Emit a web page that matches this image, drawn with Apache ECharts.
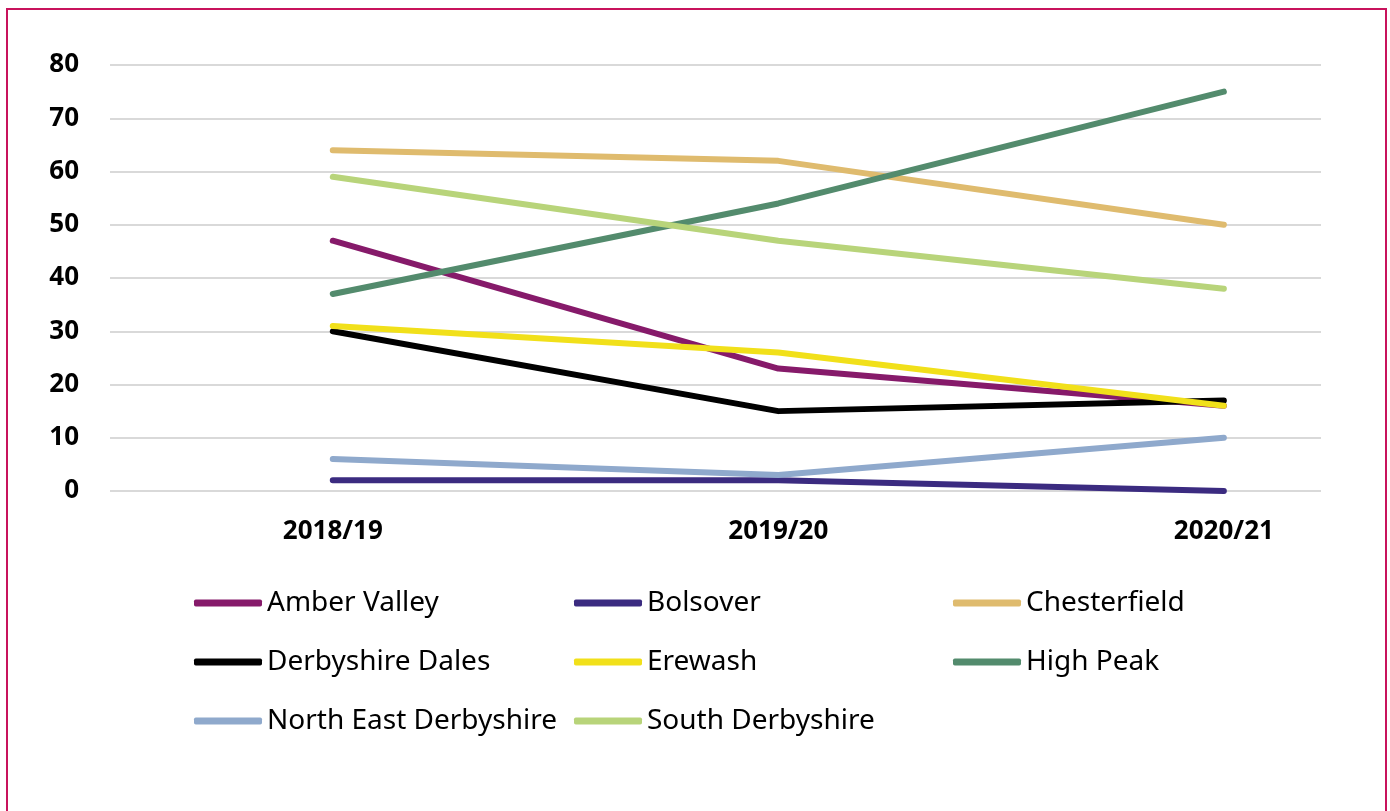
<!DOCTYPE html>
<html>
<head>
<meta charset="utf-8">
<script src="https://cdn.jsdelivr.net/npm/echarts@6/dist/echarts.min.js"></script>
<style>
  html, body { margin: 0; padding: 0; background: #fff; }
  #main { width: 1390px; height: 811px; }
</style>
</head>
<body>
<div id="main"></div>
<script>
var years = ["2018/19", "2019/20", "2020/21"]
var yTicks = [0, 10, 20, 30, 40, 50, 60, 70, 80]

var amberValley = [47, 23, 16]
var bolsover = [2, 2, 0]
var chesterfield = [64, 62, 50]
var derbyshireDales = [30, 15, 17]
var erewash = [31, 26, 16]
var highPeak = [37, 54, 75]
var northEastDerbyshire = [6, 3, 10]
var southDerbyshire = [59, 47, 38]

var lines = [
  { name: "Amber Valley", data: amberValley, color: "#861a6a" },
  { name: "Bolsover", data: bolsover, color: "#3b2b80" },
  { name: "Chesterfield", data: chesterfield, color: "#dfbb6e" },
  { name: "Derbyshire Dales", data: derbyshireDales, color: "#000000" },
  { name: "Erewash", data: erewash, color: "#f1e01a" },
  { name: "High Peak", data: highPeak, color: "#538b6d" },
  { name: "North East Derbyshire", data: northEastDerbyshire, color: "#8fa9cc" },
  { name: "South Derbyshire", data: southDerbyshire, color: "#b8d47a" }
]

var chartDom = document.getElementById("main")
var myChart = echarts.init(chartDom)
var option

function legendCol(left, names) {
  return {
    orient: "vertical",
    left: left,
    top: 589,
    padding: 0,
    itemWidth: 68,
    itemHeight: 7,
    itemGap: 31,
    icon: "roundRect",
    data: names,
    textStyle: { fontFamily: "Noto Sans", fontSize: 28, color: "#000" }
  }
}

option = {
  animation: false,
  backgroundColor: "#fff",
  graphic: [
    {
      type: "rect",
      shape: { x: 7, y: 9, width: 1379, height: 900 },
      style: { fill: "none", stroke: "#c8135c", lineWidth: 2 }
    }
  ],
  legend: [
    legendCol(194, ["Amber Valley", "Derbyshire Dales", "North East Derbyshire"]),
    legendCol(574, ["Bolsover", "Erewash", "South Derbyshire"]),
    legendCol(953, ["Chesterfield", "High Peak"])
  ],
  grid: {
    left: 110,
    right: 69,
    top: 65,
    bottom: 320,
    containLabel: false
  },
  xAxis: {
    type: "value",
    min: -0.5,
    max: 2.218,
    splitLine: { show: false },
    axisLine: { show: false },
    axisTick: { show: false },
    axisLabel: {
      customValues: [0, 1, 2],
      formatter: function (v) { return years[Math.round(v)] },
      margin: 28,
      fontFamily: "Noto Sans",
      fontSize: 26,
      fontWeight: "bold",
      color: "#000"
    }
  },
  yAxis: {
    type: "value",
    min: yTicks[0],
    max: yTicks[yTicks.length - 1],
    interval: 10,
    axisLine: { show: false },
    axisTick: { show: false },
    splitLine: { lineStyle: { color: "#d9d9d9", width: 2 } },
    axisLabel: {
      margin: 31,
      fontFamily: "Noto Sans",
      fontSize: 26,
      fontWeight: "bold",
      color: "#000"
    }
  },
  series: lines.map(function (s) {
    return {
      name: s.name,
      type: "line",
      symbol: "none",
      color: s.color,
      lineStyle: { width: 6, color: s.color, cap: "round", join: "round" },
      data: s.data.map(function (v, i) { return [i, v] })
    }
  })
}

option && myChart.setOption(option)
</script>
</body>
</html>
